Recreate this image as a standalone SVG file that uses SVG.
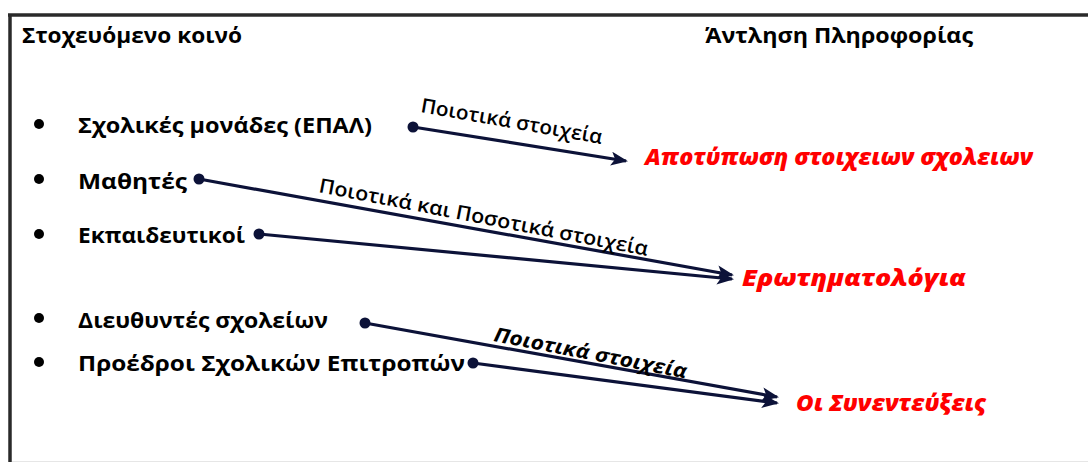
<svg xmlns="http://www.w3.org/2000/svg" width="1088" height="462" viewBox="0 0 1088 462">
<style>
.t{font-family:"Open Sans","Noto Sans","DejaVu Sans",sans-serif;font-weight:bold;fill:#000;}
.h{font-size:21px;}
.i{font-size:22px;}
.lab{font-family:"Open Sans","Noto Sans",sans-serif;font-size:20px;font-weight:600;fill:#000;}
.lab2{font-family:"Open Sans","Noto Sans",sans-serif;font-size:20px;font-weight:bold;font-style:italic;fill:#000;}
.red{font-family:"Open Sans","Noto Sans",sans-serif;font-weight:800;font-style:italic;fill:#ff0000;font-size:23px;}
.ln{stroke:#0c1238;stroke-width:3.2;fill:none;marker-end:url(#ah);}
.dot{fill:#0c1238;}
.bul{fill:#000;}
</style>
<defs>
<marker id="ah" markerUnits="userSpaceOnUse" markerWidth="18" markerHeight="14" refX="15" refY="7" orient="auto">
<path d="M0,0 L17,7 L0,14 L4,7 z" fill="#0c1238"/>
</marker>
</defs>
<rect x="0" y="0" width="1088" height="462" fill="#fff"/>
<g id="frame">
<line x1="8" y1="15" x2="1088" y2="15" stroke="#2a2a2a" stroke-width="3.5"/>
<line x1="10" y1="14" x2="10" y2="462" stroke="#2a2a2a" stroke-width="3.5"/>
<line x1="12" y1="461.5" x2="1088" y2="461.5" stroke="#e6e6e6" stroke-width="1"/>
</g>
<g id="headers">
<text class="t h" x="22" y="43" textLength="220" lengthAdjust="spacingAndGlyphs">Στοχευόμενο κοινό</text>
<text class="t h" x="705" y="43" textLength="268" lengthAdjust="spacingAndGlyphs">Άντληση Πληροφορίας</text>
</g>
<g id="n-epal">
<circle class="bul" cx="39" cy="124" r="5"/>
<text class="t i" x="78" y="133" textLength="294" lengthAdjust="spacingAndGlyphs">Σχολικές μονάδες (ΕΠΑΛ)</text>
</g>
<g id="n-mathites">
<circle class="bul" cx="39" cy="179" r="5"/>
<text class="t i" x="78" y="189" textLength="109" lengthAdjust="spacingAndGlyphs">Μαθητές</text>
</g>
<g id="n-ekpaideftikoi">
<circle class="bul" cx="39" cy="234" r="5"/>
<text class="t i" x="78" y="243" textLength="167" lengthAdjust="spacingAndGlyphs">Εκπαιδευτικοί</text>
</g>
<g id="n-diefthyntes">
<circle class="bul" cx="39" cy="318" r="5"/>
<text class="t i" x="78" y="328" textLength="250" lengthAdjust="spacingAndGlyphs">Διευθυντές σχολείων</text>
</g>
<g id="n-proedroi">
<circle class="bul" cx="39" cy="362" r="5"/>
<text class="t i" x="78" y="371" textLength="387" lengthAdjust="spacingAndGlyphs">Προέδροι Σχολικών Επιτροπών</text>
</g>
<g id="n-apotyposi">
<text class="red" x="645" y="165" textLength="388" lengthAdjust="spacingAndGlyphs">Αποτύπωση στοιχειων σχολειων</text>
</g>
<g id="n-erotimatologia">
<text class="red" x="742" y="286" textLength="224" lengthAdjust="spacingAndGlyphs">Ερωτηματολόγια</text>
</g>
<g id="n-synentefxeis">
<text class="red" x="796" y="411" textLength="190" lengthAdjust="spacingAndGlyphs">Οι Συνεντεύξεις</text>
</g>
<g id="connectors">
<circle class="dot" cx="413" cy="127" r="5.5"/>
<line class="ln" x1="413" y1="127" x2="626" y2="161"/>
<circle class="dot" cx="199" cy="179" r="5.5"/>
<line class="ln" x1="199" y1="179" x2="732" y2="275"/>
<circle class="dot" cx="259" cy="234" r="5.5"/>
<line class="ln" x1="259" y1="234" x2="732" y2="279"/>
<circle class="dot" cx="365" cy="323" r="5.5"/>
<line class="ln" x1="365" y1="323" x2="777" y2="397"/>
<circle class="dot" cx="473" cy="363" r="5.5"/>
<line class="ln" x1="473" y1="363" x2="777" y2="403"/>
<text class="lab" x="420" y="112" transform="rotate(10 420 112)" textLength="184" lengthAdjust="spacingAndGlyphs">Ποιοτικά στοιχεία</text>
<text class="lab" x="318" y="192" transform="rotate(11 318 192)" textLength="335" lengthAdjust="spacingAndGlyphs">Ποιοτικά και Ποσοτικά στοιχεία</text>
<text class="lab2" x="493" y="341" transform="rotate(11 493 341)" textLength="196" lengthAdjust="spacingAndGlyphs">Ποιοτικά στοιχεία</text>
</g>
</svg>
